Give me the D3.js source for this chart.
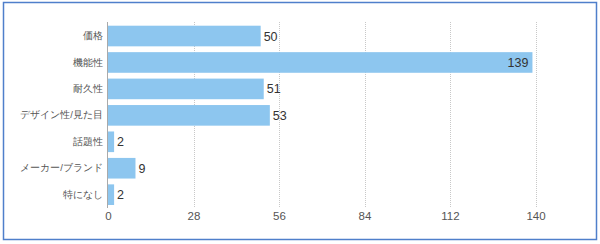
<!DOCTYPE html>
<html>
<head>
<meta charset="utf-8">
<script src="https://cdn.jsdelivr.net/npm/d3@7"></script>
<style>
  html, body { margin: 0; padding: 0; background: #fff; }
  svg { display: block; font-family: "Noto Sans CJK JP", "Liberation Sans", Arial, sans-serif; }
</style>
</head>
<body>
<svg id="chart" width="600" height="244"></svg>
<script>
var categories = ['価格', '機能性', '耐久性', 'デザイン性/見た目', '話題性', 'メーカー/ブランド', '特になし']
var values =     [50, 139, 51, 53, 2, 9, 2]
var tickValues = [0, 28, 56, 84, 112, 140]

var width = 600, height = 244
var barColor = '#8dc6ef'
var svg = d3.select('#chart')

// outer frame
svg.append('rect')
    .attr('x', 3.5).attr('y', 2.5)
    .attr('width', 593).attr('height', 237)
    .attr('fill', 'none')
    .attr('stroke', '#4f7fcb')
    .attr('stroke-width', 1.5)

var x = d3.scaleLinear().domain([0, 140]).range([108, 535.5])
var y = d3.scaleBand().domain(categories).range([22.8, 207.9]).paddingInner(0.22).paddingOuter(0.11)

// gridlines
svg.append('g')
    .selectAll('line')
    .data(tickValues.slice(1))
    .join('line')
    .attr('x1', d => Math.round(x(d)) + 0.5)
    .attr('x2', d => Math.round(x(d)) + 0.5)
    .attr('y1', 22)
    .attr('y2', 208)
    .attr('stroke', '#c8c8c8')
    .attr('stroke-dasharray', '1,1')

// x axis labels
var xAxis = d3.axisBottom(x).tickValues(tickValues).tickSize(0).tickPadding(0)
svg.append('g')
    .attr('transform', 'translate(0,212)')
    .call(xAxis)
    .call(g => g.select('.domain').remove())
    .call(g => g.selectAll('text')
        .attr('fill', '#555')
        .attr('font-size', 11.5)
        .attr('font-family', '"Liberation Sans", Arial, sans-serif'))

// bars
svg.append('g')
    .selectAll('rect')
    .data(values)
    .join('rect')
    .attr('x', x(0))
    .attr('y', (d, i) => y(categories[i]))
    .attr('width', d => x(d) - x(0))
    .attr('height', y.bandwidth())
    .attr('fill', barColor)

// baseline
svg.append('line')
    .attr('x1', 107.5).attr('x2', 107.5)
    .attr('y1', 22).attr('y2', 208)
    .attr('stroke', '#aaa')

// y axis labels
var yAxis = d3.axisLeft(y).tickSize(0).tickPadding(4)
svg.append('g')
    .attr('transform', 'translate(107,0)')
    .call(yAxis)
    .call(g => g.select('.domain').remove())
    .call(g => g.selectAll('text')
        .attr('fill', '#555')
        .attr('font-size', 9.5))

// value labels
svg.append('g')
    .selectAll('text')
    .data(values)
    .join('text')
    .attr('x', d => d > 120 ? x(d) - 4 : x(d) + 3)
    .attr('y', (d, i) => y(categories[i]) + y.bandwidth() / 2)
    .attr('dy', '0.36em')
    .attr('text-anchor', d => d > 120 ? 'end' : 'start')
    .attr('fill', '#333')
    .attr('font-size', 12.5)
    .attr('font-family', '"Liberation Sans", Arial, sans-serif')
    .text(d => d)
</script>
</body>
</html>
